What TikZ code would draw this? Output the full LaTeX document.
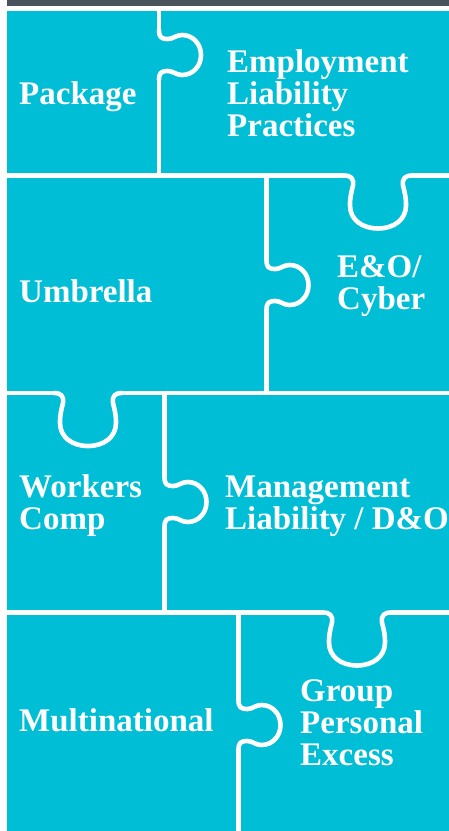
\documentclass[tikz,border=0pt]{standalone}
\usepackage{fontspec}
\setmainfont{Liberation Serif}

\tikzset{
  seam/.style={white, line width=4.6pt, line join=round},
  tabtext/.style={text=white, font=\bfseries\fontsize{33}{32}\selectfont,
    align=left, anchor=base west, inner sep=0pt},
  % knob pointing down from a horizontal seam
  htab/.pic={
    \draw[seam] (-34,0) .. controls (-27,0) and (-24,3) .. (-25,10)
      .. controls (-27,18) and (-28,22) .. (-28,30)
      .. controls (-28,44) and (-16,53) .. (0,53)
      .. controls (16,53) and (28,44) .. (28,30)
      .. controls (28,22) and (27,18) .. (25,10)
      .. controls (24,3) and (27,0) .. (34,0);
  },
  % knob pointing right from a vertical seam
  vtab/.pic={
    \draw[seam] (0,-25) .. controls (0,-18) and (2,-16) .. (9,-16)
      .. controls (14,-16) and (17,-20) .. (23,-20)
      .. controls (34,-20) and (42,-11) .. (42,0)
      .. controls (42,11) and (34,20) .. (23,20)
      .. controls (17,20) and (14,16) .. (9,16)
      .. controls (2,16) and (0,18) .. (0,25);
  }
}

\begin{document}
\begin{tikzpicture}[x=1pt, y=-1pt]
  % Define colors
  \definecolor{puzzlecyan}{HTML}{00BED6}
  \definecolor{barslate}{HTML}{4A525A}

  \useasboundingbox (0,0) rectangle (449,831);

  % Top bar and board
  \fill[barslate] (7,0) rectangle (449,5.5);
  \fill[puzzlecyan] (7,11) rectangle (449,831);

  % Horizontal seams with knobs
  \foreach \sy/\tx in {175.5/378, 393/88, 612.5/357} {
    \draw[seam] (7,\sy) -- (\tx-34,\sy);
    \pic at (\tx,\sy) {htab};
    \draw[seam] (\tx+34,\sy) -- (449,\sy);
  }

  % Vertical seams with knobs
  \foreach \sx/\ty/\ya/\yb in {159/55/5.5/175.5, 266.5/285/175.5/393,
                               164.5/502/393/612.5, 238.5/725/612.5/831} {
    \draw[seam] (\sx,\ya) -- (\sx,\ty-25);
    \pic at (\sx,\ty) {vtab};
    \draw[seam] (\sx,\ty+25) -- (\sx,\yb);
  }

  % Labels (anchored at the baseline of the last line)
  \node[tabtext] (package) at (19,104.5) {Package};
  \node[tabtext] (elp) at (227,136.7) {Employment\\Liability\\Practices};
  \node[tabtext] (umbrella) at (19,302.7) {Umbrella};
  \node[tabtext] (eocyber) at (337,309) {E\&O/\\Cyber};
  \node[tabtext] (workers) at (19,529) {Workers\\Comp};
  \node[tabtext] (mgmt) at (225,529) {Management\\Liability / D\&O};
  \node[tabtext] (multinational) at (19,731.7) {Multinational};
  \node[tabtext] (gpe) at (300,765) {Group\\Personal\\Excess};
\end{tikzpicture}
\end{document}
